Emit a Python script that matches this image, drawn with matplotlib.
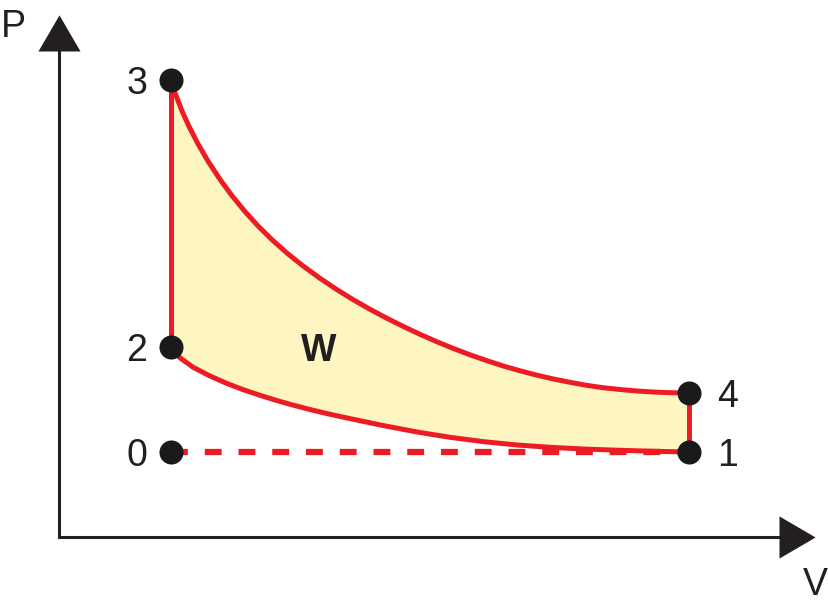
import matplotlib
matplotlib.use("Agg")
import matplotlib.pyplot as plt

plt.rcParams['font.family'] = ['Liberation Sans', 'DejaVu Sans']

# State points of the cycle (V, P) in diagram units
state_labels = ['0', '1', '2', '3', '4']
state_V = [112, 630, 112, 112, 630]
state_P = [85, 85, 190, 457, 144]

# Expansion curve 3 -> 4
exp_V = [112, 115, 123, 130, 139, 149, 161, 173, 186, 199, 213, 228, 244, 261, 278, 294, 311, 328,
         344, 361, 378, 394, 411, 428, 444, 461, 478, 494, 511, 528, 544, 561, 578, 594, 611, 630]
exp_P = [457, 446.8, 426.0, 410.6, 393.1, 375.9, 357.6, 341.3, 325.4, 311.1, 297.3, 283.9,
         271.1, 258.7, 247.3, 237.4, 227.7, 218.7, 210.7, 202.7, 195.2, 188.7, 182.2, 176.3,
         171.1, 166.2, 161.8, 158.1, 154.7, 151.6, 149.3, 147.5, 146.0, 145.0, 144.3, 144.0]

# Compression curve 2 -> 1
cmp_V = [112, 121, 134, 151, 168, 184, 201, 218, 234, 251, 268, 284, 301, 324, 358, 391, 424, 458,
         491, 524, 558, 591, 630]
cmp_P = [190, 179.2, 169.8, 161.0, 153.5, 147.4, 141.7, 136.4, 131.9, 127.5, 123.4, 119.9,
         116.3, 111.5, 105.0, 99.7, 95.4, 92.0, 89.7, 88.0, 86.8, 85.8, 85.0]

RED = '#ED1C24'
FILL = '#FDF6C3'
DARK = '#231F20'

fig = plt.figure(figsize=(8.29, 6.09), dpi=100)
ax = fig.add_axes([0, 0, 1, 1])
ax.set_xlim(-59, 770)
ax.set_ylim(-72, 537)
ax.axis('off')

# filled work area
poly_V = exp_V + cmp_V[::-1]
poly_P = exp_P + cmp_P[::-1]
ax.fill(poly_V, poly_P, color=FILL, zorder=1, lw=0)

# cycle lines
lw = 3.6
ax.plot(exp_V, exp_P, color=RED, lw=lw, solid_joinstyle='round', solid_capstyle='round', zorder=2)
ax.plot(cmp_V, cmp_P, color=RED, lw=lw, solid_joinstyle='round', solid_capstyle='round', zorder=2)
ax.plot([state_V[2], state_V[3]], [state_P[2], state_P[3]], color=RED, lw=lw, zorder=2)
ax.plot([state_V[1], state_V[4]], [state_P[1], state_P[4]], color=RED, lw=lw, zorder=2)
ax.plot([state_V[0], state_V[1]], [state_P[0], state_P[1]], color=RED, lw=4.5,
        dashes=(2.7, 2.7), zorder=2)

# state points
ax.scatter(state_V, state_P, s=300, color='#1A1A1A', zorder=3, lw=0)

# state labels
offsets = {'0': -34, '1': 39, '2': -34, '3': -34, '4': 39}
for lab, v, p in zip(state_labels, state_V, state_P):
    ax.text(v + offsets[lab], p, lab, fontsize=27, color=DARK,
            ha='center', va='center_baseline', zorder=4)

ax.text(260, 190, 'W', fontsize=27, fontweight='bold', color=DARK,
        ha='center', va='center_baseline', zorder=4)

# axes with arrowheads
ax.plot([0, 0, 725], [490, 0, 0], color=DARK, lw=2.2, solid_joinstyle='miter',
        solid_capstyle='butt', zorder=2)
head_up = [(-21, 0), (21, 0), (0, 36)]
head_right = [(0, -21), (0, 21), (36, 0)]
ax.plot([0], [486], marker=head_up, ms=52, color=DARK, mew=0, zorder=2)
ax.plot([720], [0], marker=head_right, ms=52, color=DARK, mew=0, zorder=2)
ax.text(-46, 514, 'P', fontsize=27, color=DARK, ha='center', va='center_baseline')
ax.text(756, -44, 'V', fontsize=27, color=DARK, ha='center', va='center_baseline')

fig.savefig('out.png', dpi=100)
